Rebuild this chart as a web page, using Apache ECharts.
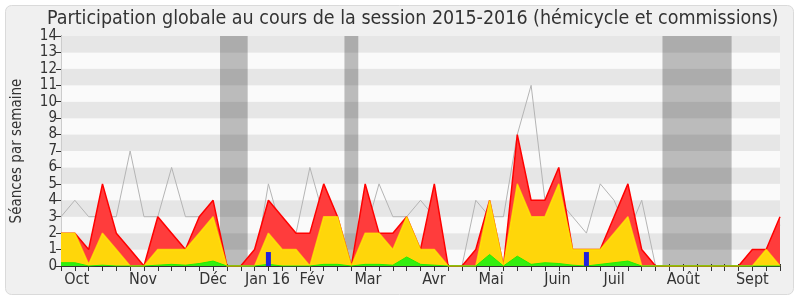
<!DOCTYPE html>
<html>
<head>
<meta charset="utf-8">
<script src="https://cdn.jsdelivr.net/npm/echarts@6/dist/echarts.min.js"></script>
<style>
html,body{margin:0;padding:0;background:#fff;}
#c{width:800px;height:300px;}
</style>
</head>
<body>
<div id="c"></div>
<script>
// ---- data (one value per week, week 0 = late Sept 2015) ----
var totalSessions = [2,2,1,5,2,1,0,3,2,1,3,4,0,0,1,4,3,2,2,5,3,0,5,2,2,3,1,5,0,0,1,4,0,8,4,4,6,1,1,1,3,5,1,0,0,0,0,0,0,0,1,1,3];
var commissionSessions = [2,2,0.1,2,1,0,0,1,1,1,2,3,0,0,0,2,1,1,0,3,3,0,2,2,1,3,1,1,0,0,0,4,0,5,3,3,5,1,1,1,2,3,0,0,0,0,0,0,0,0,0,1,0];
var hemicycleSessions = [0.2,0.2,0,0.05,0,0,0,0.05,0.1,0.05,0.15,0.3,0,0,0,0.1,0,0,0,0.1,0.1,0,0.1,0.1,0.05,0.55,0.1,0.05,0,0,0,0.7,0,0.6,0.1,0.2,0.15,0.05,0,0.1,0.2,0.3,0,0,0,0,0,0,0,0,0,0,0];
var medianLine = [3,4,3,3,3,7,3,3,6,3,3,3,0,0,0,5,2,2,6,3,3,0,2,5,3,3,4,3,0,0,4,3,3,8,11,4,4,3,2,5,4,2,4,0,0,0,0,0,0,0,1,1,2.5];
var questionWeeks = [15, 38];
var questionValues = [0.85, 0.85];
var vacationStart = [12, 21, 44];
var vacationEnd = [13, 21, 48];
var monthLabels = ['Oct','Nov','Déc','Jan 16','Fév','Mar','Avr','Mai','Juin','Juil','Août','Sept'];
var monthWeeks = [1.13, 5.93, 11, 14.93, 18.15, 22.2, 26.97, 31.1, 35.9, 40, 45, 50];
var yTicks = [0,1,2,3,4,5,6,7,8,9,10,11,12,13,14];

function pairs(arr){ return arr.map(function(v,i){ return [i, v]; }); }

var FONT = 'DejaVu Sans Condensed';
var chart = echarts.init(document.getElementById('c'), null, {renderer:'canvas'});
var nWeeks = totalSessions.length - 1;

var option = {
  animation: false,
  backgroundColor: '#ffffff',
  graphic: [{
    type: 'rect', z: -10, silent: true,
    shape: {x: 5.5, y: 5.5, width: 788, height: 289, r: 6},
    style: {fill: '#f0f0f0', stroke: '#dadada', lineWidth: 1}
  }],
  title: {
    text: 'Participation globale au cours de la session 2015-2016 (hémicycle et commissions)',
    left: 42, top: 4,
    textStyle: {fontFamily: FONT, fontSize: 19.5, fontWeight: 'normal', color: '#333'}
  },
  grid: {left: 61, right: 20, top: 36, bottom: 34, containLabel: false},
  xAxis: [{
    type: 'value', min: 0, max: nWeeks, interval: 1,
    axisLine: {show: true, onZero: false, lineStyle: {color: '#333', width: 1}},
    axisTick: {show: true, inside: false, length: 5, lineStyle: {color: '#333'}},
    axisLabel: {
      show: true, customValues: monthWeeks, margin: 6,
      fontFamily: FONT, fontSize: 16, color: '#333',
      formatter: function(v){ var k = monthWeeks.indexOf(v); return k >= 0 ? monthLabels[k] : ''; }
    },
    splitLine: {show: false}
  }, {
    type: 'value', position: 'top', min: 0, max: nWeeks, interval: 1,
    axisLine: {show: false},
    axisTick: {show: true, inside: false, length: 2, lineStyle: {color: '#333'}},
    axisLabel: {show: false},
    splitLine: {show: false}
  }],
  yAxis: [{
    type: 'value', min: 0, max: 14, interval: 1,
    name: 'Séances par semaine', nameLocation: 'middle', nameGap: 36,
    nameTextStyle: {fontFamily: FONT, fontSize: 15, color: '#333'},
    axisLine: {show: true, lineStyle: {color: '#333'}},
    axisTick: {show: true, length: 5, lineStyle: {color: '#333'}},
    axisLabel: {fontFamily: FONT, fontSize: 15, color: '#333', margin: 4,
      formatter: function(v){ return yTicks.indexOf(v) >= 0 ? String(v) : ''; }},
    splitLine: {show: false},
    splitArea: {show: true, areaStyle: {color: ['#fafafa', '#e6e6e6']}}
  }, {
    type: 'value', position: 'right', min: 0, max: 14, interval: 1,
    axisLine: {show: true, lineStyle: {color: '#cccccc'}},
    axisTick: {show: false}, axisLabel: {show: false},
    splitLine: {show: false}, splitArea: {show: false}
  }],
  series: [{
    name: 'median', type: 'line', z: 2, data: pairs(medianLine),
    symbol: 'none', lineStyle: {color: '#b4b4b4', width: 1},
    markArea: {
      silent: true, itemStyle: {color: 'rgba(0,0,0,0.25)'},
      data: vacationStart.map(function(s, k){ return [{xAxis: s - 0.5}, {xAxis: vacationEnd[k] + 0.5}]; })
    }
  }, {
    name: 'total', type: 'line', z: 3, data: pairs(totalSessions),
    symbol: 'none', lineStyle: {color: '#ff0000', width: 1.5},
    areaStyle: {color: '#ff3c3c', opacity: 1}
  }, {
    name: 'commission', type: 'line', z: 4, data: pairs(commissionSessions),
    symbol: 'none', lineStyle: {color: 'rgba(255,240,0,0.7)', width: 1.5},
    areaStyle: {color: '#ffd60a', opacity: 1}
  }, {
    name: 'hemicycle', type: 'line', z: 5, data: pairs(hemicycleSessions),
    symbol: 'none', lineStyle: {color: '#22ee00', width: 1},
    areaStyle: {color: '#33ee11', opacity: 1}
  }, {
    name: 'questions', type: 'bar', z: 6, barWidth: 5,
    data: questionWeeks.map(function(w, k){ return [w, questionValues[k]]; }),
    itemStyle: {color: '#2222dd'}
  }]
};
chart.setOption(option);
</script>
</body>
</html>
